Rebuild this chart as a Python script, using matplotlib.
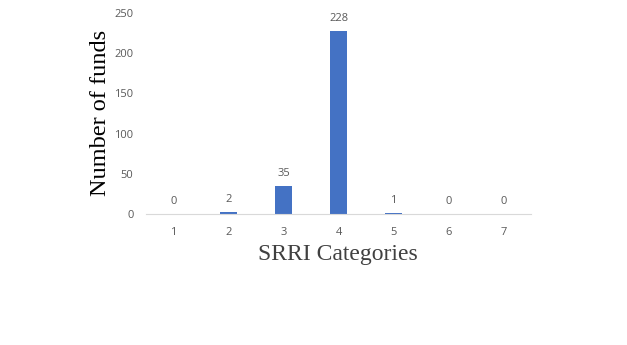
import matplotlib.pyplot as plt

# SRRI categories and fund counts
categories = ['1', '2', '3', '4', '5', '6', '7']
counts = [0, 2, 35, 228, 1, 0, 0]
yticks = [0, 50, 100, 150, 200, 250]

fig = plt.figure(figsize=(6.27, 3.45), dpi=100)
ax = fig.add_axes([0.2329, 0.3797, 0.6141, 0.5826])

pos = list(range(len(categories)))
bars = ax.bar(pos, counts, width=0.31, color='#4472C4')

for b, v in zip(bars, counts):
    ax.annotate(str(v), (b.get_x() + b.get_width() / 2, v), xytext=(0, 5),
                textcoords='offset points', ha='center', va='bottom',
                fontsize=8, color='#595959', family='Open Sans')

ax.set_xlim(-0.5, len(categories) - 0.5)
ax.set_ylim(0, 250)
ax.set_xticks(pos)
ax.set_xticklabels(categories)
ax.set_yticks(yticks)
ax.tick_params(length=0, labelsize=8, labelcolor='#595959', pad=9)
for lab in ax.get_xticklabels() + ax.get_yticklabels():
    lab.set_family('Open Sans')

for s in ['top', 'right', 'left']:
    ax.spines[s].set_visible(False)
ax.spines['bottom'].set_color('#d9d9d9')

fig.text(0.1595, 0.6714, 'Number of funds', rotation=90, ha='center', va='center',
         fontsize=17.5, family='Liberation Serif', color='black')
fig.text(0.539, 0.261, 'SRRI Categories', ha='center', va='center',
         fontsize=17, family='Liberation Serif', color='#404040')

fig.savefig('out.png', dpi=100, facecolor='white')
